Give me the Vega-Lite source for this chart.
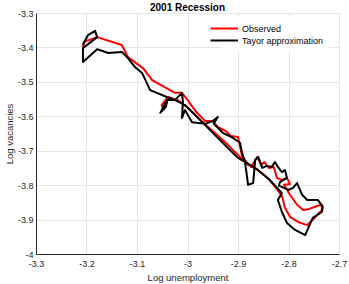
{
  "$schema": "https://vega.github.io/schema/vega-lite/v6.json",
  "width": 303,
  "height": 241,
  "autosize": "none",
  "padding": {"left": 36, "top": 13, "right": 10, "bottom": 30},
  "background": "white",
  "title": {"text": "2001 Recession", "fontSize": 10, "fontWeight": "bold", "font": "Liberation Sans", "color": "#000000", "anchor": "middle", "offset": 3, "dy": 7},
  "config": {
    "view": {"stroke": null},
    "axis": {"labelFont": "Liberation Sans", "titleFont": "Liberation Sans", "labelFontSize": 9, "titleFontSize": 9.5, "titleFontWeight": "normal", "labelColor": "#262626", "titleColor": "#262626", "domainColor": "#262626", "gridColor": "#e6e6e6", "ticks": false},
    "legend": {"labelFont": "Liberation Sans"}
  },
  "data": {"values": [
    {"s": "Observed", "t": 1, "u": -3.207, "v": -3.399},
    {"s": "Observed", "t": 2, "u": -3.205, "v": -3.384},
    {"s": "Observed", "t": 3, "u": -3.179, "v": -3.370},
    {"s": "Observed", "t": 4, "u": -3.130, "v": -3.393},
    {"s": "Observed", "t": 5, "u": -3.118, "v": -3.428},
    {"s": "Observed", "t": 6, "u": -3.088, "v": -3.460},
    {"s": "Observed", "t": 7, "u": -3.070, "v": -3.495},
    {"s": "Observed", "t": 8, "u": -3.025, "v": -3.532},
    {"s": "Observed", "t": 9, "u": -3.011, "v": -3.532},
    {"s": "Observed", "t": 10, "u": -3.001, "v": -3.550},
    {"s": "Observed", "t": 11, "u": -2.983, "v": -3.587},
    {"s": "Observed", "t": 12, "u": -2.965, "v": -3.614},
    {"s": "Observed", "t": 13, "u": -2.950, "v": -3.614},
    {"s": "Observed", "t": 14, "u": -2.940, "v": -3.631},
    {"s": "Observed", "t": 15, "u": -2.924, "v": -3.643},
    {"s": "Observed", "t": 16, "u": -2.914, "v": -3.657},
    {"s": "Observed", "t": 17, "u": -2.900, "v": -3.660},
    {"s": "Observed", "t": 18, "u": -2.892, "v": -3.715},
    {"s": "Observed", "t": 19, "u": -2.882, "v": -3.736},
    {"s": "Observed", "t": 20, "u": -2.874, "v": -3.747},
    {"s": "Observed", "t": 21, "u": -2.862, "v": -3.718},
    {"s": "Observed", "t": 22, "u": -2.854, "v": -3.741},
    {"s": "Observed", "t": 23, "u": -2.848, "v": -3.733},
    {"s": "Observed", "t": 24, "u": -2.839, "v": -3.750},
    {"s": "Observed", "t": 25, "u": -2.829, "v": -3.747},
    {"s": "Observed", "t": 26, "u": -2.823, "v": -3.779},
    {"s": "Observed", "t": 27, "u": -2.813, "v": -3.785},
    {"s": "Observed", "t": 28, "u": -2.803, "v": -3.779},
    {"s": "Observed", "t": 29, "u": -2.797, "v": -3.797},
    {"s": "Observed", "t": 30, "u": -2.809, "v": -3.799},
    {"s": "Observed", "t": 31, "u": -2.797, "v": -3.828},
    {"s": "Observed", "t": 32, "u": -2.783, "v": -3.857},
    {"s": "Observed", "t": 33, "u": -2.771, "v": -3.872},
    {"s": "Observed", "t": 34, "u": -2.759, "v": -3.869},
    {"s": "Observed", "t": 35, "u": -2.742, "v": -3.860},
    {"s": "Observed", "t": 36, "u": -2.734, "v": -3.857},
    {"s": "Observed", "t": 37, "u": -2.734, "v": -3.872},
    {"s": "Observed", "t": 38, "u": -2.748, "v": -3.895},
    {"s": "Observed", "t": 39, "u": -2.763, "v": -3.916},
    {"s": "Observed", "t": 40, "u": -2.781, "v": -3.907},
    {"s": "Observed", "t": 41, "u": -2.797, "v": -3.892},
    {"s": "Observed", "t": 42, "u": -2.807, "v": -3.866},
    {"s": "Observed", "t": 43, "u": -2.813, "v": -3.831},
    {"s": "Observed", "t": 44, "u": -2.825, "v": -3.808},
    {"s": "Observed", "t": 45, "u": -2.841, "v": -3.779},
    {"s": "Observed", "t": 46, "u": -2.860, "v": -3.756},
    {"s": "Observed", "t": 47, "u": -2.880, "v": -3.741},
    {"s": "Observed", "t": 48, "u": -2.896, "v": -3.718},
    {"s": "Observed", "t": 49, "u": -2.920, "v": -3.683},
    {"s": "Observed", "t": 50, "u": -2.946, "v": -3.648},
    {"s": "Observed", "t": 51, "u": -2.975, "v": -3.611},
    {"s": "Observed", "t": 52, "u": -2.999, "v": -3.576},
    {"s": "Observed", "t": 53, "u": -3.019, "v": -3.553},
    {"s": "Observed", "t": 54, "u": -3.039, "v": -3.544},
    {"s": "Observed", "t": 55, "u": -3.051, "v": -3.567},
    {"s": "Observed", "t": 56, "u": -3.049, "v": -3.576},
    {"s": "Observed", "t": 57, "u": -3.043, "v": -3.564},
    {"s": "Tayor approximation", "t": 1, "u": -3.207, "v": -3.393},
    {"s": "Tayor approximation", "t": 2, "u": -3.197, "v": -3.364},
    {"s": "Tayor approximation", "t": 3, "u": -3.183, "v": -3.352},
    {"s": "Tayor approximation", "t": 4, "u": -3.179, "v": -3.370},
    {"s": "Tayor approximation", "t": 5, "u": -3.207, "v": -3.402},
    {"s": "Tayor approximation", "t": 6, "u": -3.207, "v": -3.442},
    {"s": "Tayor approximation", "t": 7, "u": -3.179, "v": -3.405},
    {"s": "Tayor approximation", "t": 8, "u": -3.157, "v": -3.416},
    {"s": "Tayor approximation", "t": 9, "u": -3.130, "v": -3.413},
    {"s": "Tayor approximation", "t": 10, "u": -3.118, "v": -3.431},
    {"s": "Tayor approximation", "t": 11, "u": -3.104, "v": -3.457},
    {"s": "Tayor approximation", "t": 12, "u": -3.090, "v": -3.474},
    {"s": "Tayor approximation", "t": 13, "u": -3.074, "v": -3.524},
    {"s": "Tayor approximation", "t": 14, "u": -3.041, "v": -3.544},
    {"s": "Tayor approximation", "t": 15, "u": -3.025, "v": -3.553},
    {"s": "Tayor approximation", "t": 16, "u": -3.011, "v": -3.532},
    {"s": "Tayor approximation", "t": 17, "u": -3.009, "v": -3.558},
    {"s": "Tayor approximation", "t": 18, "u": -3.011, "v": -3.605},
    {"s": "Tayor approximation", "t": 19, "u": -3.005, "v": -3.582},
    {"s": "Tayor approximation", "t": 20, "u": -2.991, "v": -3.617},
    {"s": "Tayor approximation", "t": 21, "u": -2.965, "v": -3.622},
    {"s": "Tayor approximation", "t": 22, "u": -2.950, "v": -3.614},
    {"s": "Tayor approximation", "t": 23, "u": -2.940, "v": -3.602},
    {"s": "Tayor approximation", "t": 24, "u": -2.948, "v": -3.622},
    {"s": "Tayor approximation", "t": 25, "u": -2.930, "v": -3.648},
    {"s": "Tayor approximation", "t": 26, "u": -2.910, "v": -3.663},
    {"s": "Tayor approximation", "t": 27, "u": -2.896, "v": -3.677},
    {"s": "Tayor approximation", "t": 28, "u": -2.892, "v": -3.707},
    {"s": "Tayor approximation", "t": 29, "u": -2.886, "v": -3.733},
    {"s": "Tayor approximation", "t": 30, "u": -2.880, "v": -3.799},
    {"s": "Tayor approximation", "t": 31, "u": -2.870, "v": -3.794},
    {"s": "Tayor approximation", "t": 32, "u": -2.866, "v": -3.727},
    {"s": "Tayor approximation", "t": 33, "u": -2.860, "v": -3.718},
    {"s": "Tayor approximation", "t": 34, "u": -2.852, "v": -3.750},
    {"s": "Tayor approximation", "t": 35, "u": -2.843, "v": -3.744},
    {"s": "Tayor approximation", "t": 36, "u": -2.833, "v": -3.747},
    {"s": "Tayor approximation", "t": 37, "u": -2.827, "v": -3.733},
    {"s": "Tayor approximation", "t": 38, "u": -2.821, "v": -3.747},
    {"s": "Tayor approximation", "t": 39, "u": -2.813, "v": -3.762},
    {"s": "Tayor approximation", "t": 40, "u": -2.807, "v": -3.756},
    {"s": "Tayor approximation", "t": 41, "u": -2.803, "v": -3.779},
    {"s": "Tayor approximation", "t": 42, "u": -2.817, "v": -3.791},
    {"s": "Tayor approximation", "t": 43, "u": -2.819, "v": -3.802},
    {"s": "Tayor approximation", "t": 44, "u": -2.813, "v": -3.805},
    {"s": "Tayor approximation", "t": 45, "u": -2.801, "v": -3.814},
    {"s": "Tayor approximation", "t": 46, "u": -2.791, "v": -3.808},
    {"s": "Tayor approximation", "t": 47, "u": -2.783, "v": -3.794},
    {"s": "Tayor approximation", "t": 48, "u": -2.773, "v": -3.828},
    {"s": "Tayor approximation", "t": 49, "u": -2.763, "v": -3.843},
    {"s": "Tayor approximation", "t": 50, "u": -2.742, "v": -3.843},
    {"s": "Tayor approximation", "t": 51, "u": -2.732, "v": -3.863},
    {"s": "Tayor approximation", "t": 52, "u": -2.734, "v": -3.878},
    {"s": "Tayor approximation", "t": 53, "u": -2.752, "v": -3.895},
    {"s": "Tayor approximation", "t": 54, "u": -2.767, "v": -3.945},
    {"s": "Tayor approximation", "t": 55, "u": -2.787, "v": -3.930},
    {"s": "Tayor approximation", "t": 56, "u": -2.803, "v": -3.910},
    {"s": "Tayor approximation", "t": 57, "u": -2.813, "v": -3.878},
    {"s": "Tayor approximation", "t": 58, "u": -2.821, "v": -3.843},
    {"s": "Tayor approximation", "t": 59, "u": -2.813, "v": -3.823},
    {"s": "Tayor approximation", "t": 60, "u": -2.837, "v": -3.785},
    {"s": "Tayor approximation", "t": 61, "u": -2.866, "v": -3.750},
    {"s": "Tayor approximation", "t": 62, "u": -2.900, "v": -3.721},
    {"s": "Tayor approximation", "t": 63, "u": -2.946, "v": -3.654},
    {"s": "Tayor approximation", "t": 64, "u": -2.985, "v": -3.596},
    {"s": "Tayor approximation", "t": 65, "u": -3.005, "v": -3.567},
    {"s": "Tayor approximation", "t": 66, "u": -3.025, "v": -3.553},
    {"s": "Tayor approximation", "t": 67, "u": -3.041, "v": -3.553},
    {"s": "Tayor approximation", "t": 68, "u": -3.054, "v": -3.590},
    {"s": "Tayor approximation", "t": 69, "u": -3.043, "v": -3.573},
    {"s": "Tayor approximation", "t": 70, "u": -3.039, "v": -3.550}
  ]},
  "mark": {"type": "line", "strokeWidth": 2, "strokeJoin": "round"},
  "encoding": {
    "x": {"field": "u", "type": "quantitative", "scale": {"domain": [-3.3, -2.7], "nice": false, "zero": false},
      "axis": {"title": "Log unemployment", "values": [-3.3, -3.2, -3.1, -3.0, -2.9, -2.8, -2.7], "labelExpr": "toString(datum.value)", "labelPadding": 5, "titlePadding": 4, "labelFlush": false}},
    "y": {"field": "v", "type": "quantitative", "scale": {"domain": [-4, -3.3], "nice": false, "zero": false},
      "axis": {"title": "Log vacancies", "values": [-4, -3.9, -3.8, -3.7, -3.6, -3.5, -3.4, -3.3], "labelExpr": "toString(datum.value)", "labelPadding": 3, "titlePadding": 3, "labelFlush": false}},
    "color": {"field": "s", "type": "nominal",
      "scale": {"domain": ["Observed", "Tayor approximation"], "range": ["#ff0000", "#000000"]},
      "legend": {"title": null, "orient": "none", "legendX": 185, "legendY": 4, "fillColor": "white", "padding": 5,
        "labelFontSize": 9, "labelColor": "#000000", "labelOffset": 3, "rowPadding": 0,
        "symbolType": "M-4,0L1,0", "symbolSize": 121, "symbolStrokeWidth": 2}},
    "order": {"field": "t", "type": "quantitative"}
  }
}
